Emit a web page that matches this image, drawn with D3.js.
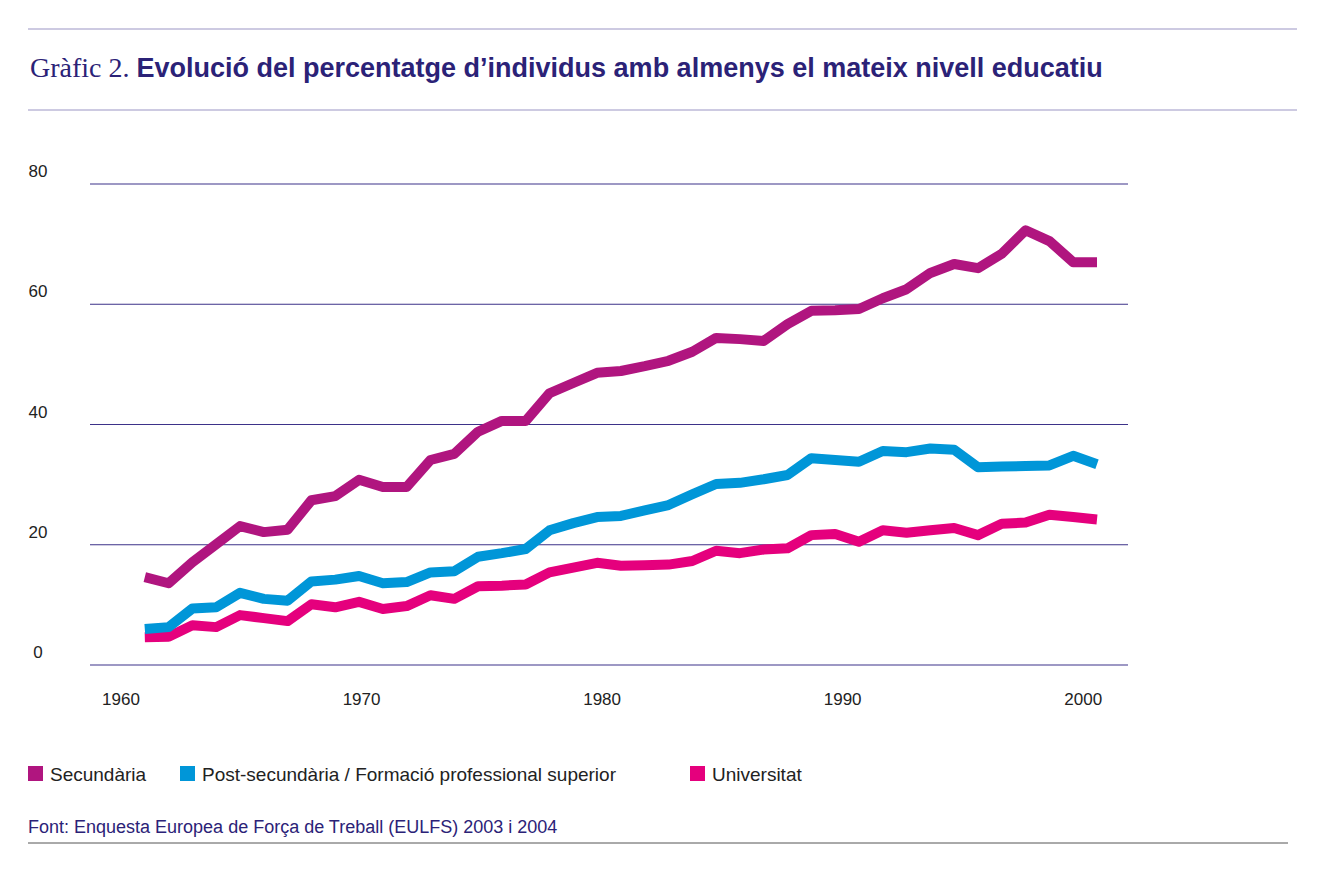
<!DOCTYPE html>
<html><head><meta charset="utf-8">
<script src="https://cdn.jsdelivr.net/npm/d3@7"></script>
<style>body{margin:0;background:#fff}svg{font-family:"Liberation Sans",Arial,sans-serif}</style>
</head><body><svg width="1323" height="880"></svg>
<script>
var years = d3.range(1961, 2002);
var secundaria = [14.6,13.6,17.1,20.1,23.1,22.1,22.5,27.4,28.1,30.8,29.6,29.6,34.1,35.1,38.8,40.6,40.6,45.2,46.9,48.6,48.9,49.7,50.6,52.1,54.4,54.2,53.9,56.7,58.9,59.0,59.2,61.0,62.5,65.2,66.7,66.0,68.4,72.3,70.5,67.0,67.0];
var postSecundaria = [6.0,6.3,9.4,9.6,12.0,11.0,10.7,13.9,14.2,14.8,13.6,13.8,15.4,15.6,18.0,18.6,19.3,22.4,23.6,24.6,24.8,25.7,26.6,28.4,30.1,30.3,30.9,31.6,34.4,34.1,33.8,35.6,35.4,36.0,35.8,32.9,33.0,33.1,33.2,34.8,33.4];
var universitat = [4.6,4.7,6.6,6.3,8.3,7.8,7.3,10.1,9.6,10.5,9.3,9.8,11.6,11.0,13.1,13.2,13.4,15.4,16.2,17.0,16.5,16.6,16.7,17.3,19.0,18.6,19.2,19.4,21.6,21.8,20.5,22.4,22.0,22.4,22.8,21.6,23.5,23.7,25.0,24.6,24.2];
var yTicks = [0,20,40,60,80];
var xTicks = [1960,1970,1980,1990,2000];
var series = [
  {name:"Secundària", values:secundaria, color:"#b0157f"},
  {name:"Post-secundària / Formació professional superior", values:postSecundaria, color:"#0096d8"},
  {name:"Universitat", values:universitat, color:"#e5007d"}
];

var svg = d3.select("svg"), navy = "#2b2277";
var x = d3.scaleLinear().domain([1960,2001]).range([121,1097]);
var y = d3.scaleLinear().domain([0,80]).range([665,184]);

svg.append("line").attr("x1",28).attr("x2",1297).attr("y1",29).attr("y2",29).attr("stroke","#9b95c4");
svg.append("line").attr("x1",28).attr("x2",1297).attr("y1",110).attr("y2",110).attr("stroke","#9b95c4");
svg.append("line").attr("x1",28).attr("x2",1288).attr("y1",843).attr("y2",843).attr("stroke","#555");
var t = svg.append("text").attr("x",30).attr("y",77).attr("fill",navy);
t.append("tspan").attr("font-family","Liberation Serif,serif").attr("font-size",28).text("Gràfic 2. ");
t.append("tspan").attr("font-weight","bold").attr("font-size",27).text("Evolució del percentatge d’individus amb almenys el mateix nivell educatiu");

svg.append("g").selectAll("line").data(yTicks).enter().append("line")
  .attr("x1",90).attr("x2",1128).attr("y1",d=>y(d)).attr("y2",d=>y(d))
  .attr("stroke","#3d3289").attr("stroke-width",1.2);
svg.append("g").selectAll("text").data(yTicks).enter().append("text")
  .attr("x",38).attr("y",d=>y(d)-7).attr("text-anchor","middle").attr("font-size",17).attr("fill","#222").text(d=>d);
svg.append("g").selectAll("text").data(xTicks).enter().append("text")
  .attr("x",d=>x(d)+(d-1960)/4).attr("y",705).attr("text-anchor","middle").attr("font-size",17).attr("fill","#222").text(d=>d);

var line = d3.line().x((d,i)=>x(years[i])).y(d=>y(d));
series.slice().reverse().forEach(function(s){
  svg.append("path").attr("d",line(s.values)).attr("fill","none")
    .attr("stroke",s.color).attr("stroke-width",10).attr("stroke-linejoin","round");
});

var lx = [28,180,690];
series.forEach(function(s,i){
  svg.append("rect").attr("x",lx[i]).attr("y",766).attr("width",15).attr("height",15).attr("fill",s.color);
  svg.append("text").attr("x",lx[i]+22).attr("y",781).attr("font-size",19).attr("fill","#222").text(s.name);
});
svg.append("text").attr("x",28).attr("y",833).attr("font-size",18).attr("fill",navy)
  .text("Font: Enquesta Europea de Força de Treball (EULFS) 2003 i 2004");
</script></body></html>
